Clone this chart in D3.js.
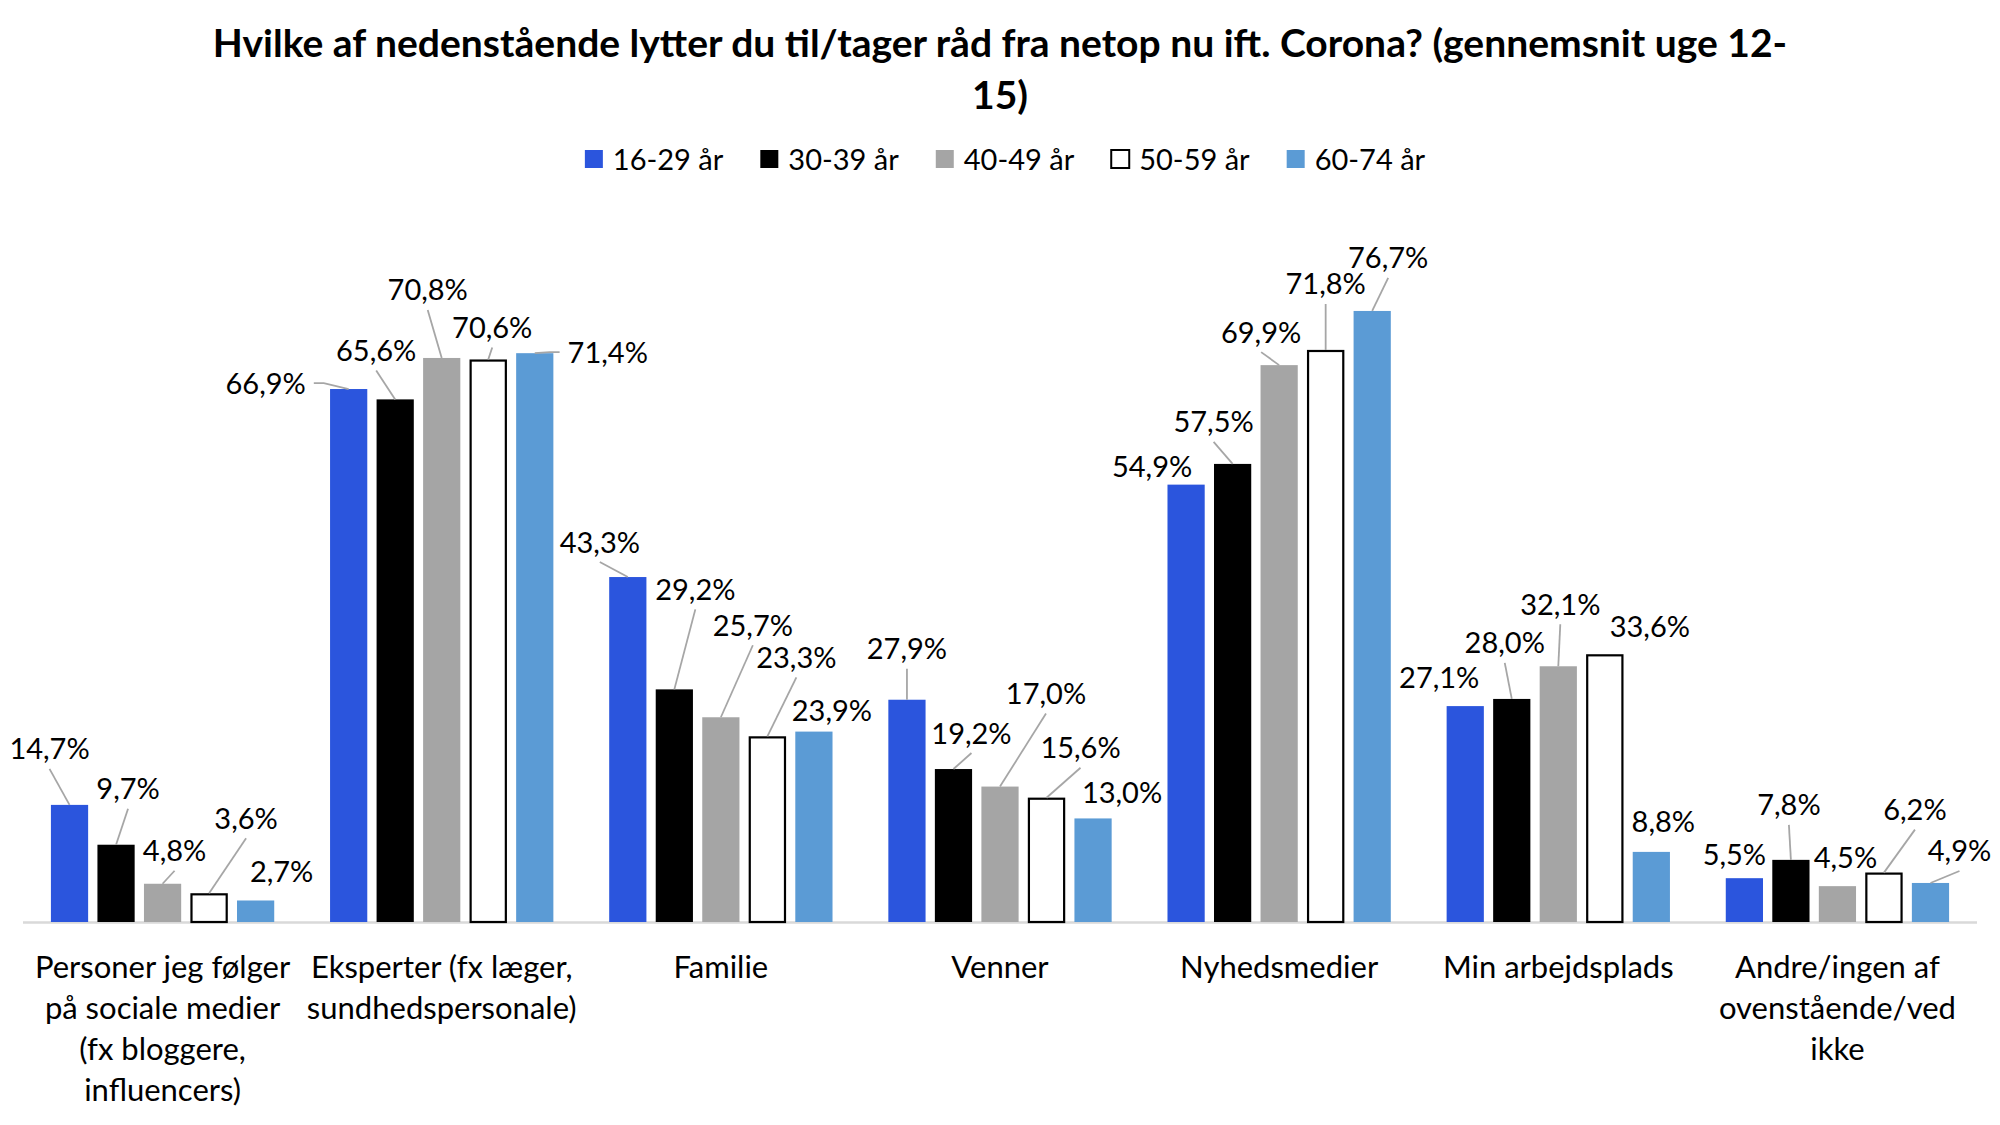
<!DOCTYPE html>
<html>
<head>
<meta charset="utf-8">
<script src="https://d3js.org/d3.v7.min.js"></script>
<style>
  body { margin: 0; background: #fff; }
  text { font-family: Lato, "Open Sans", sans-serif; fill: #000; }
</style>
</head>
<body>
<script>
// data
var categories = ["Personer jeg følger\npå sociale medier\n(fx bloggere,\ninfluencers)",
                  "Eksperter (fx læger,\nsundhedspersonale)",
                  "Familie", "Venner", "Nyhedsmedier", "Min arbejdsplads",
                  "Andre/ingen af\novenstående/ved\nikke"];
var series = ["16-29 år", "30-39 år", "40-49 år", "50-59 år", "60-74 år"];
var age16 = [14.7, 66.9, 43.3, 27.9, 54.9, 27.1, 5.5];
var age30 = [9.7, 65.6, 29.2, 19.2, 57.5, 28.0, 7.8];
var age40 = [4.8, 70.8, 25.7, 17.0, 69.9, 32.1, 4.5];
var age50 = [3.6, 70.6, 23.3, 15.6, 71.8, 33.6, 6.2];
var age60 = [2.7, 71.4, 23.9, 13.0, 76.7, 8.8, 4.9];
var values = [age16, age30, age40, age50, age60];
var title = ["Hvilke af nedenstående lytter du til/tager råd fra netop nu ift. Corona? (gennemsnit uge 12-", "15)"];

var fills   = ["#2b55dd", "#000000", "#a5a5a5", "#ffffff", "#5b9bd5"];
var strokes = [null, null, null, "#000000", null];

// label placement (Excel "best fit"), offset from bar top centre + leader type (0 none, 1 below, 2 side)
var labelPos = [
  [[-20,-56,1], [12,-56,1], [12,-33,1], [37,-75,1], [26,-29,0]],
  [[-83,-6,2], [-19,-49,1], [-14,-68,1], [4,-32,1], [73,-1,2]],
  [[-28,-35,1], [21,-100,1], [32,-92,1], [29,-79,1], [18,-21,0]],
  [[0,-51,1], [18,-36,1], [46,-93,1], [34,-50,1], [29,-26,0]],
  [[-34,-18,0], [-19,-42,1], [-18,-33,1], [0,-66,1], [16,-53,1]],
  [[-26,-29,0], [-7,-56,1], [2,-62,1], [45,-28,0], [12,-30,0]],
  [[-10,-24,0], [-2,-55,1], [8,-29,0], [31,-63,1], [29,-32,1]]
];

var W = 2000, H = 1125;
var svg = d3.select("body").append("svg")
  .attr("width", W).attr("height", H);

var x0 = d3.scaleBand().domain(d3.range(categories.length)).range([23, 1977]).padding(0);
var x1 = d3.scaleBand().domain(d3.range(series.length)).range([0, x0.bandwidth()])
  .paddingInner(0.2).paddingOuter(0.6);
var y = d3.scaleLinear().domain([0, 90]).range([922, 205]);

var fmt = function(v) { return d3.format(".1f")(v).replace(".", ",") + "%"; };

// title
var tt = svg.append("text").attr("text-anchor", "middle")
  .style("font-weight", "bold").style("font-size", "34px");
tt.selectAll("tspan").data(title).enter().append("tspan")
  .attr("x", 1000).attr("y", function(d, i) { return 57 + i * 52; })
  .text(function(d) { return d; });
var tw = tt.select("tspan").node().getComputedTextLength();
tt.style("font-size", (34 * 1575 / tw) + "px");

// legend
var leg = svg.append("g");
var lx = 0;
series.forEach(function(s, i) {
  var g = leg.append("g").attr("transform", "translate(" + lx + ",0)");
  g.append("rect").attr("x", 0).attr("y", 150).attr("width", 18).attr("height", 18)
    .attr("fill", fills[i]).attr("stroke", strokes[i] ? "#000" : "none").attr("stroke-width", 2);
  var t = g.append("text").attr("x", 28).attr("y", 170).style("font-size", "29px").text(s);
  lx += 28 + t.node().getComputedTextLength() + 37;
});
lx -= 37;
leg.attr("transform", "translate(" + (1005 - lx / 2) + ",0)");

// axis line
svg.append("line").attr("x1", 23).attr("x2", 1977).attr("y1", y(0) + 0.5).attr("y2", y(0) + 0.5)
  .attr("stroke", "#d9d9d9").attr("stroke-width", 2.5);

// bars
var rows = [];
categories.forEach(function(c, ci) {
  series.forEach(function(s, si) {
    rows.push({ci: ci, si: si, v: values[si][ci]});
  });
});

svg.append("g").selectAll("rect").data(rows).enter().append("rect")
  .attr("x", function(d) { return x0(d.ci) + x1(d.si) + (strokes[d.si] ? 1 : 0); })
  .attr("y", function(d) { return y(d.v) + (strokes[d.si] ? 1 : 0); })
  .attr("width", function(d) { return x1.bandwidth() - (strokes[d.si] ? 2 : 0); })
  .attr("height", function(d) { return y(0) - y(d.v) - (strokes[d.si] ? 1 : 0); })
  .attr("fill", function(d) { return fills[d.si]; })
  .attr("stroke", function(d) { return strokes[d.si] || "none"; })
  .attr("stroke-width", 2.2);

// labels + leader lines
var lg = svg.append("g");
rows.forEach(function(d) {
  var bx = x0(d.ci) + x1(d.si) + x1.bandwidth() / 2;
  var by = y(d.v);
  var p = labelPos[d.ci][d.si];
  var cx = bx + p[0], cy = by + p[1];
  var t = lg.append("text").attr("x", cx).attr("y", cy + 10.5)
    .attr("text-anchor", "middle").style("font-size", "29px").text(fmt(d.v));
  var w = t.node().getComputedTextLength();
  if (p[2] === 1) {
    lg.append("line").attr("x1", cx).attr("y1", cy + 20).attr("x2", bx).attr("y2", by)
      .attr("stroke", "#a6a6a6").attr("stroke-width", 1.8);
  } else if (p[2] === 2) {
    var side = p[0] < 0 ? 1 : -1;
    var sx = cx + side * (w / 2 + 8);
    lg.append("path")
      .attr("d", "M" + sx + "," + cy + "L" + (sx + side * 10) + "," + cy + "L" + bx + "," + by)
      .attr("fill", "none").attr("stroke", "#a6a6a6").attr("stroke-width", 1.8);
  }
});

// category labels
svg.append("g").selectAll("text").data(categories).enter().append("text")
  .attr("text-anchor", "middle").style("font-size", "31px")
  .each(function(c, i) {
    var t = d3.select(this);
    c.split("\n").forEach(function(line, li) {
      t.append("tspan").attr("x", x0(i) + x0.bandwidth() / 2).attr("y", 978 + li * 41).text(line);
    });
  });
</script>
</body>
</html>
